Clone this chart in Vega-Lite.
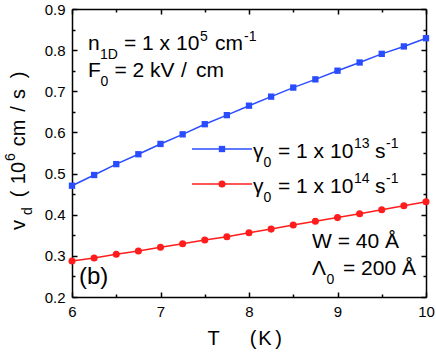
{
  "$schema": "https://vega.github.io/schema/vega-lite/v6.json",
  "width": 354,
  "height": 288,
  "autosize": {"type": "none"},
  "padding": {"left": 72, "top": 9, "right": 10, "bottom": 59},
  "background": "white",
  "config": {"view": {"stroke": null}, "font": "Liberation Sans", "text": {"font": "Liberation Sans", "color": "black"}},
  "datasets": {
    "series": [
      {"T": 6, "v": 0.4705, "g": "a"}, {"T": 6.25, "v": 0.4965, "g": "a"}, {"T": 6.5, "v": 0.523, "g": "a"}, {"T": 6.75, "v": 0.547, "g": "a"},
      {"T": 7, "v": 0.572, "g": "a"}, {"T": 7.25, "v": 0.5954, "g": "a"}, {"T": 7.5, "v": 0.62, "g": "a"}, {"T": 7.75, "v": 0.642, "g": "a"},
      {"T": 8, "v": 0.665, "g": "a"}, {"T": 8.25, "v": 0.687, "g": "a"}, {"T": 8.5, "v": 0.709, "g": "a"}, {"T": 8.75, "v": 0.729, "g": "a"},
      {"T": 9, "v": 0.75, "g": "a"}, {"T": 9.25, "v": 0.77, "g": "a"}, {"T": 9.5, "v": 0.791, "g": "a"}, {"T": 9.75, "v": 0.809, "g": "a"},
      {"T": 10, "v": 0.829, "g": "a"},
      {"T": 6, "v": 0.2875, "g": "b"}, {"T": 6.25, "v": 0.295, "g": "b"}, {"T": 6.5, "v": 0.3037, "g": "b"}, {"T": 6.75, "v": 0.312, "g": "b"},
      {"T": 7, "v": 0.3208, "g": "b"}, {"T": 7.25, "v": 0.3295, "g": "b"}, {"T": 7.5, "v": 0.3385, "g": "b"}, {"T": 7.75, "v": 0.3466, "g": "b"},
      {"T": 8, "v": 0.356, "g": "b"}, {"T": 8.25, "v": 0.365, "g": "b"}, {"T": 8.5, "v": 0.375, "g": "b"}, {"T": 8.75, "v": 0.384, "g": "b"},
      {"T": 9, "v": 0.393, "g": "b"}, {"T": 9.25, "v": 0.4025, "g": "b"}, {"T": 9.5, "v": 0.412, "g": "b"}, {"T": 9.75, "v": 0.422, "g": "b"},
      {"T": 10, "v": 0.4316, "g": "b"}
    ],
    "one": [{}]
  },
  "layer": [
    {
      "data": {"name": "series"},
      "mark": {"type": "line", "strokeWidth": 1.5},
      "encoding": {
        "x": {"field": "T", "type": "quantitative", "scale": {"domain": [6, 10], "nice": false, "zero": false},
          "axis": {"orient": "bottom", "values": [6, 6.5, 7, 7.5, 8, 8.5, 9, 9.5, 10], "labelExpr": "datum.value % 1 == 0 ? format(datum.value, 'd') : ''",
            "title": null, "grid": false, "domainColor": "black", "domainWidth": 1.5, "tickColor": "black", "tickWidth": 1.5,
            "tickSize": {"condition": {"test": "datum.value % 1 == 0", "value": -5}, "value": -3},
            "labelFontSize": 15, "labelColor": "black", "labelPadding": 12, "labelFont": "Liberation Sans", "labelFlush": false, "labelOverlap": false}},
        "y": {"field": "v", "type": "quantitative", "scale": {"domain": [0.2, 0.9], "nice": false, "zero": false},
          "axis": {"orient": "left", "values": [0.2, 0.25, 0.3, 0.35, 0.4, 0.45, 0.5, 0.55, 0.6, 0.65, 0.7, 0.75, 0.8, 0.85, 0.9],
            "labelExpr": "abs(datum.value*10 - round(datum.value*10)) < 0.001 ? format(datum.value, '.1f') : ''",
            "title": null, "grid": false, "domainColor": "black", "domainWidth": 1.5, "tickColor": "black", "tickWidth": 1.5,
            "tickSize": {"condition": {"test": "abs(datum.value*10 - round(datum.value*10)) < 0.001", "value": -5}, "value": -3},
            "labelFontSize": 15, "labelColor": "black", "labelPadding": 12, "labelFont": "Liberation Sans", "labelFlush": false, "labelOverlap": false}},
        "color": {"field": "g", "type": "nominal", "scale": {"domain": ["a", "b"], "range": ["#2a4cff", "#ff1c1c"]}, "legend": null}
      }
    },
    {
      "data": {"name": "series"},
      "mark": {"type": "point", "filled": true, "opacity": 1},
      "encoding": {
        "x": {"field": "T", "type": "quantitative", "axis": null},
        "y": {"field": "v", "type": "quantitative", "axis": null},
        "color": {"field": "g", "type": "nominal", "legend": null},
        "shape": {"field": "g", "type": "nominal", "scale": {"domain": ["a", "b"], "range": ["square", "circle"]}, "legend": null},
        "size": {"field": "g", "type": "nominal", "scale": {"domain": ["a", "b"], "range": [40, 50]}, "legend": null}
      }
    },
    {
      "data": {"name": "series"},
      "mark": {"type": "point", "opacity": 0},
      "encoding": {
        "x": {"field": "T", "type": "quantitative",
          "axis": {"orient": "top", "values": [6, 6.5, 7, 7.5, 8, 8.5, 9, 9.5, 10], "labels": false, "title": null, "grid": false,
            "domainColor": "black", "domainWidth": 1.5, "tickColor": "black", "tickWidth": 1.5,
            "tickSize": {"condition": {"test": "datum.value % 1 == 0", "value": -5}, "value": -3}}},
        "y": {"field": "v", "type": "quantitative",
          "axis": {"orient": "right", "values": [0.2, 0.25, 0.3, 0.35, 0.4, 0.45, 0.5, 0.55, 0.6, 0.65, 0.7, 0.75, 0.8, 0.85, 0.9], "labels": false, "title": null, "grid": false,
            "domainColor": "black", "domainWidth": 1.5, "tickColor": "black", "tickWidth": 1.5,
            "tickSize": {"condition": {"test": "abs(datum.value*10 - round(datum.value*10)) < 0.001", "value": -5}, "value": -3}}}
      }
    },
    {"data": {"name": "one"}, "mark": {"type": "rule", "color": "#2a4cff", "strokeWidth": 1.5},
      "encoding": {"x": {"datum": 7.3559, "type": "quantitative", "axis": null}, "x2": {"datum": 8.0339}, "y": {"datum": 0.5597, "type": "quantitative", "axis": null}}},
    {"data": {"name": "one"}, "mark": {"type": "point", "shape": "square", "filled": true, "size": 40, "color": "#2a4cff", "opacity": 1},
      "encoding": {"x": {"datum": 7.6949, "type": "quantitative", "axis": null}, "y": {"datum": 0.5597, "type": "quantitative", "axis": null}}},
    {"data": {"name": "one"}, "mark": {"type": "rule", "color": "#ff1c1c", "strokeWidth": 1.5},
      "encoding": {"x": {"datum": 7.3559, "type": "quantitative", "axis": null}, "x2": {"datum": 8.0339}, "y": {"datum": 0.4747, "type": "quantitative", "axis": null}}},
    {"data": {"name": "one"}, "mark": {"type": "point", "shape": "circle", "filled": true, "size": 50, "color": "#ff1c1c", "opacity": 1},
      "encoding": {"x": {"datum": 7.6949, "type": "quantitative", "axis": null}, "y": {"datum": 0.4747, "type": "quantitative", "axis": null}}},

    {"data": {"name": "one"}, "mark": {"type": "text", "text": "γ", "fontSize": 21, "align": "left", "baseline": "alphabetic", "dx": 0},
      "encoding": {"x": {"datum": 8.0452, "type": "quantitative", "axis": null}, "y": {"datum": 0.5378, "type": "quantitative", "axis": null}}},
    {"data": {"name": "one"}, "mark": {"type": "text", "text": "0", "fontSize": 14, "align": "left", "baseline": "alphabetic", "dx": 10.5, "dy": 9},
      "encoding": {"x": {"datum": 8.0452, "type": "quantitative", "axis": null}, "y": {"datum": 0.5378, "type": "quantitative", "axis": null}}},
    {"data": {"name": "one"}, "mark": {"type": "text", "text": "= 1 x 10", "fontSize": 21, "align": "left", "baseline": "alphabetic", "dx": 25},
      "encoding": {"x": {"datum": 8.0452, "type": "quantitative", "axis": null}, "y": {"datum": 0.5378, "type": "quantitative", "axis": null}}},
    {"data": {"name": "one"}, "mark": {"type": "text", "text": "13", "fontSize": 14, "align": "left", "baseline": "alphabetic", "dx": 101, "dy": -10},
      "encoding": {"x": {"datum": 8.0452, "type": "quantitative", "axis": null}, "y": {"datum": 0.5378, "type": "quantitative", "axis": null}}},
    {"data": {"name": "one"}, "mark": {"type": "text", "text": "s", "fontSize": 21, "align": "left", "baseline": "alphabetic", "dx": 122},
      "encoding": {"x": {"datum": 8.0452, "type": "quantitative", "axis": null}, "y": {"datum": 0.5378, "type": "quantitative", "axis": null}}},
    {"data": {"name": "one"}, "mark": {"type": "text", "text": "-1", "fontSize": 14, "align": "left", "baseline": "alphabetic", "dx": 133, "dy": -10},
      "encoding": {"x": {"datum": 8.0452, "type": "quantitative", "axis": null}, "y": {"datum": 0.5378, "type": "quantitative", "axis": null}}},

    {"data": {"name": "one"}, "mark": {"type": "text", "text": "γ", "fontSize": 21, "align": "left", "baseline": "alphabetic", "dx": 0},
      "encoding": {"x": {"datum": 8.0452, "type": "quantitative", "axis": null}, "y": {"datum": 0.4528, "type": "quantitative", "axis": null}}},
    {"data": {"name": "one"}, "mark": {"type": "text", "text": "0", "fontSize": 14, "align": "left", "baseline": "alphabetic", "dx": 10.5, "dy": 9},
      "encoding": {"x": {"datum": 8.0452, "type": "quantitative", "axis": null}, "y": {"datum": 0.4528, "type": "quantitative", "axis": null}}},
    {"data": {"name": "one"}, "mark": {"type": "text", "text": "= 1 x 10", "fontSize": 21, "align": "left", "baseline": "alphabetic", "dx": 25},
      "encoding": {"x": {"datum": 8.0452, "type": "quantitative", "axis": null}, "y": {"datum": 0.4528, "type": "quantitative", "axis": null}}},
    {"data": {"name": "one"}, "mark": {"type": "text", "text": "14", "fontSize": 14, "align": "left", "baseline": "alphabetic", "dx": 101, "dy": -10},
      "encoding": {"x": {"datum": 8.0452, "type": "quantitative", "axis": null}, "y": {"datum": 0.4528, "type": "quantitative", "axis": null}}},
    {"data": {"name": "one"}, "mark": {"type": "text", "text": "s", "fontSize": 21, "align": "left", "baseline": "alphabetic", "dx": 122},
      "encoding": {"x": {"datum": 8.0452, "type": "quantitative", "axis": null}, "y": {"datum": 0.4528, "type": "quantitative", "axis": null}}},
    {"data": {"name": "one"}, "mark": {"type": "text", "text": "-1", "fontSize": 14, "align": "left", "baseline": "alphabetic", "dx": 133, "dy": -10},
      "encoding": {"x": {"datum": 8.0452, "type": "quantitative", "axis": null}, "y": {"datum": 0.4528, "type": "quantitative", "axis": null}}},

    {"data": {"name": "one"}, "mark": {"type": "text", "text": "n", "fontSize": 21, "align": "left", "baseline": "alphabetic", "dx": 0},
      "encoding": {"x": {"datum": 6.1808, "type": "quantitative", "axis": null}, "y": {"datum": 0.8003, "type": "quantitative", "axis": null}}},
    {"data": {"name": "one"}, "mark": {"type": "text", "text": "1D", "fontSize": 14, "align": "left", "baseline": "alphabetic", "dx": 12, "dy": 9},
      "encoding": {"x": {"datum": 6.1808, "type": "quantitative", "axis": null}, "y": {"datum": 0.8003, "type": "quantitative", "axis": null}}},
    {"data": {"name": "one"}, "mark": {"type": "text", "text": "= 1 x 10", "fontSize": 21, "align": "left", "baseline": "alphabetic", "dx": 36},
      "encoding": {"x": {"datum": 6.1808, "type": "quantitative", "axis": null}, "y": {"datum": 0.8003, "type": "quantitative", "axis": null}}},
    {"data": {"name": "one"}, "mark": {"type": "text", "text": "5", "fontSize": 14, "align": "left", "baseline": "alphabetic", "dx": 112, "dy": -9},
      "encoding": {"x": {"datum": 6.1808, "type": "quantitative", "axis": null}, "y": {"datum": 0.8003, "type": "quantitative", "axis": null}}},
    {"data": {"name": "one"}, "mark": {"type": "text", "text": "cm", "fontSize": 21, "align": "left", "baseline": "alphabetic", "dx": 127},
      "encoding": {"x": {"datum": 6.1808, "type": "quantitative", "axis": null}, "y": {"datum": 0.8003, "type": "quantitative", "axis": null}}},
    {"data": {"name": "one"}, "mark": {"type": "text", "text": "-1", "fontSize": 14, "align": "left", "baseline": "alphabetic", "dx": 156, "dy": -9},
      "encoding": {"x": {"datum": 6.1808, "type": "quantitative", "axis": null}, "y": {"datum": 0.8003, "type": "quantitative", "axis": null}}},

    {"data": {"name": "one"}, "mark": {"type": "text", "text": "F", "fontSize": 21, "align": "left", "baseline": "alphabetic", "dx": 0},
      "encoding": {"x": {"datum": 6.1808, "type": "quantitative", "axis": null}, "y": {"datum": 0.7347, "type": "quantitative", "axis": null}}},
    {"data": {"name": "one"}, "mark": {"type": "text", "text": "0", "fontSize": 14, "align": "left", "baseline": "alphabetic", "dx": 12.5, "dy": 9},
      "encoding": {"x": {"datum": 6.1808, "type": "quantitative", "axis": null}, "y": {"datum": 0.7347, "type": "quantitative", "axis": null}}},
    {"data": {"name": "one"}, "mark": {"type": "text", "text": "= 2 kV", "fontSize": 21, "align": "left", "baseline": "alphabetic", "dx": 26.5},
      "encoding": {"x": {"datum": 6.1808, "type": "quantitative", "axis": null}, "y": {"datum": 0.7347, "type": "quantitative", "axis": null}}},
    {"data": {"name": "one"}, "mark": {"type": "text", "text": "/", "fontSize": 21, "align": "left", "baseline": "alphabetic", "dx": 93},
      "encoding": {"x": {"datum": 6.1808, "type": "quantitative", "axis": null}, "y": {"datum": 0.7347, "type": "quantitative", "axis": null}}},
    {"data": {"name": "one"}, "mark": {"type": "text", "text": "cm", "fontSize": 21, "align": "left", "baseline": "alphabetic", "dx": 108},
      "encoding": {"x": {"datum": 6.1808, "type": "quantitative", "axis": null}, "y": {"datum": 0.7347, "type": "quantitative", "axis": null}}},

    {"data": {"name": "one"}, "mark": {"type": "text", "text": "W = 40 Å", "fontSize": 21, "align": "left", "baseline": "alphabetic", "dx": 0},
      "encoding": {"x": {"datum": 8.7119, "type": "quantitative", "axis": null}, "y": {"datum": 0.3191, "type": "quantitative", "axis": null}}},
    {"data": {"name": "one"}, "mark": {"type": "text", "text": "Λ", "fontSize": 21, "align": "left", "baseline": "alphabetic", "dx": 0},
      "encoding": {"x": {"datum": 8.7119, "type": "quantitative", "axis": null}, "y": {"datum": 0.2535, "type": "quantitative", "axis": null}}},
    {"data": {"name": "one"}, "mark": {"type": "text", "text": "0", "fontSize": 14, "align": "left", "baseline": "alphabetic", "dx": 14.5, "dy": 9},
      "encoding": {"x": {"datum": 8.7119, "type": "quantitative", "axis": null}, "y": {"datum": 0.2535, "type": "quantitative", "axis": null}}},
    {"data": {"name": "one"}, "mark": {"type": "text", "text": "= 200 Å", "fontSize": 21, "align": "left", "baseline": "alphabetic", "dx": 31},
      "encoding": {"x": {"datum": 8.7119, "type": "quantitative", "axis": null}, "y": {"datum": 0.2535, "type": "quantitative", "axis": null}}},

    {"data": {"name": "one"}, "mark": {"type": "text", "text": "(b)", "fontSize": 24, "align": "left", "baseline": "alphabetic"},
      "encoding": {"x": {"datum": 6.0791, "type": "quantitative", "axis": null}, "y": {"datum": 0.2316, "type": "quantitative", "axis": null}}},

    {"data": {"name": "one"}, "mark": {"type": "text", "text": "T", "fontSize": 20, "align": "center", "baseline": "alphabetic", "dx": 0},
      "encoding": {"x": {"datum": 7.5989, "type": "quantitative", "axis": null}, "y": {"datum": 0.0833, "type": "quantitative", "axis": null}}},
    {"data": {"name": "one"}, "mark": {"type": "text", "text": "(", "fontSize": 20, "align": "center", "baseline": "alphabetic", "dx": 39.5},
      "encoding": {"x": {"datum": 7.5989, "type": "quantitative", "axis": null}, "y": {"datum": 0.0833, "type": "quantitative", "axis": null}}},
    {"data": {"name": "one"}, "mark": {"type": "text", "text": "K", "fontSize": 20, "align": "center", "baseline": "alphabetic", "dx": 51.5},
      "encoding": {"x": {"datum": 7.5989, "type": "quantitative", "axis": null}, "y": {"datum": 0.0833, "type": "quantitative", "axis": null}}},
    {"data": {"name": "one"}, "mark": {"type": "text", "text": ")", "fontSize": 20, "align": "center", "baseline": "alphabetic", "dx": 65},
      "encoding": {"x": {"datum": 7.5989, "type": "quantitative", "axis": null}, "y": {"datum": 0.0833, "type": "quantitative", "axis": null}}},

    {"data": {"name": "one"}, "mark": {"type": "text", "text": "v", "fontSize": 20, "angle": 270, "align": "center", "baseline": "alphabetic", "dx": 0},
      "encoding": {"x": {"datum": 5.4689, "type": "quantitative", "axis": null}, "y": {"datum": 0.375, "type": "quantitative", "axis": null}}},
    {"data": {"name": "one"}, "mark": {"type": "text", "text": "d", "fontSize": 14, "angle": 270, "align": "center", "baseline": "alphabetic", "dx": 14, "dy": 7},
      "encoding": {"x": {"datum": 5.4689, "type": "quantitative", "axis": null}, "y": {"datum": 0.375, "type": "quantitative", "axis": null}}},
    {"data": {"name": "one"}, "mark": {"type": "text", "text": "(", "fontSize": 20, "angle": 270, "align": "center", "baseline": "alphabetic", "dx": 31},
      "encoding": {"x": {"datum": 5.4689, "type": "quantitative", "axis": null}, "y": {"datum": 0.375, "type": "quantitative", "axis": null}}},
    {"data": {"name": "one"}, "mark": {"type": "text", "text": "10", "fontSize": 20, "angle": 270, "align": "center", "baseline": "alphabetic", "dx": 52},
      "encoding": {"x": {"datum": 5.4689, "type": "quantitative", "axis": null}, "y": {"datum": 0.375, "type": "quantitative", "axis": null}}},
    {"data": {"name": "one"}, "mark": {"type": "text", "text": "6", "fontSize": 14, "angle": 270, "align": "center", "baseline": "alphabetic", "dx": 68, "dy": -10},
      "encoding": {"x": {"datum": 5.4689, "type": "quantitative", "axis": null}, "y": {"datum": 0.375, "type": "quantitative", "axis": null}}},
    {"data": {"name": "one"}, "mark": {"type": "text", "text": "cm", "fontSize": 20, "angle": 270, "align": "center", "baseline": "alphabetic", "dx": 92},
      "encoding": {"x": {"datum": 5.4689, "type": "quantitative", "axis": null}, "y": {"datum": 0.375, "type": "quantitative", "axis": null}}},
    {"data": {"name": "one"}, "mark": {"type": "text", "text": "/", "fontSize": 20, "angle": 270, "align": "center", "baseline": "alphabetic", "dx": 116},
      "encoding": {"x": {"datum": 5.4689, "type": "quantitative", "axis": null}, "y": {"datum": 0.375, "type": "quantitative", "axis": null}}},
    {"data": {"name": "one"}, "mark": {"type": "text", "text": "s", "fontSize": 20, "angle": 270, "align": "center", "baseline": "alphabetic", "dx": 131},
      "encoding": {"x": {"datum": 5.4689, "type": "quantitative", "axis": null}, "y": {"datum": 0.375, "type": "quantitative", "axis": null}}},
    {"data": {"name": "one"}, "mark": {"type": "text", "text": ")", "fontSize": 20, "angle": 270, "align": "center", "baseline": "alphabetic", "dx": 150},
      "encoding": {"x": {"datum": 5.4689, "type": "quantitative", "axis": null}, "y": {"datum": 0.375, "type": "quantitative", "axis": null}}}
  ],
  "resolve": {"axis": {"x": "independent", "y": "independent"}}
}
